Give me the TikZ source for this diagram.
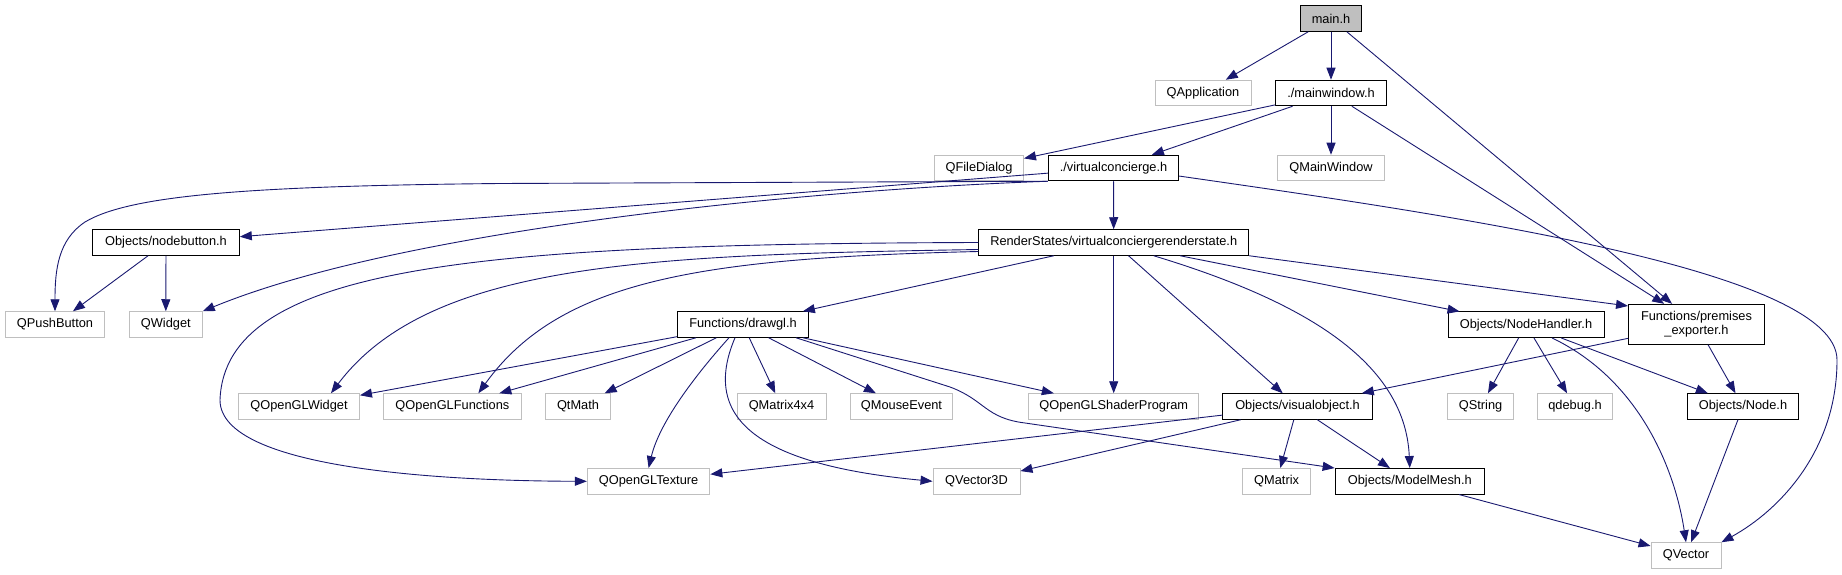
\documentclass[tikz,border=0pt]{standalone}
\usepackage{fontspec}
\setmainfont{Liberation Sans}
\usetikzlibrary{arrows.meta}
\begin{document}
\begin{tikzpicture}[x=1pt, y=-1pt,
        hdr/.style={draw=black, fill=white, line width=0.9pt, minimum height=25.6pt, inner sep=0pt, font=\fontsize{12.8}{14.3}\selectfont},
        syshdr/.style={hdr, draw=boxgray},
        roothdr/.style={hdr, fill=boxgray},
        incl/.style={draw=edgeblue, line width=0.9pt, -{Triangle[length=12pt,width=9pt]}}]
\definecolor{boxgray}{RGB}{191,191,191}
\definecolor{edgeblue}{RGB}{25,25,112}
\useasboundingbox (0,0) rectangle (1842,575);
\node[roothdr, minimum width=61pt] (main) at (1331,18.5) {main.h};
\node[syshdr, minimum width=96pt] (qapp) at (1203,93) {QApplication};
\node[hdr, minimum width=110.6pt] (mainwin) at (1331,93) {./mainwindow.h};
\node[syshdr, minimum width=89pt] (qfiledlg) at (979,168) {QFileDialog};
\node[hdr, minimum width=130.5pt] (vconc) at (1113.5,168) {./virtualconcierge.h};
\node[syshdr, minimum width=107pt] (qmainwin) at (1331,168) {QMainWindow};
\node[hdr, minimum width=270pt] (rstate) at (1113.7,242.5) {RenderStates/virtualconciergerenderstate.h};
\node[hdr, minimum width=146.7pt] (nodebtn) at (166,242.5) {Objects/nodebutton.h};
\node[syshdr, minimum width=99.7pt] (qpushbtn) at (55,324.5) {QPushButton};
\node[syshdr, minimum width=73pt] (qwidget) at (165.8,324.5) {QWidget};
\node[hdr, minimum width=131pt] (drawgl) at (743,324.5) {Functions/drawgl.h};
\node[hdr, minimum width=156pt] (nodehdl) at (1526,324.7) {Objects/NodeHandler.h};
\node[hdr, minimum width=136pt, minimum height=40pt, align=center] (premexp) at (1696.5,324.3) {Functions/premises\\\_exporter.h};
\node[syshdr, minimum width=121pt] (qglwidget) at (299,406.5) {QOpenGLWidget};
\node[syshdr, minimum width=137.3pt] (qglfunc) at (452.4,406.5) {QOpenGLFunctions};
\node[syshdr, minimum width=64.5pt] (qtmath) at (578,406.5) {QtMath};
\node[syshdr, minimum width=89pt] (qmat4) at (781.5,406.5) {QMatrix4x4};
\node[syshdr, minimum width=101.5pt] (qmouse) at (901.5,406.5) {QMouseEvent};
\node[syshdr, minimum width=170pt] (qglshader) at (1113.7,406.5) {QOpenGLShaderProgram};
\node[hdr, minimum width=149.4pt] (visobj) at (1297.5,406.5) {Objects/visualobject.h};
\node[syshdr, minimum width=66.5pt] (qstring) at (1480.6,406.5) {QString};
\node[syshdr, minimum width=75pt] (qdebug) at (1575,406.5) {qdebug.h};
\node[hdr, minimum width=111.7pt] (objnode) at (1743,406.5) {Objects/Node.h};
\node[syshdr, minimum width=122.6pt] (qgltex) at (648.6,481.3) {QOpenGLTexture};
\node[syshdr, minimum width=87pt] (qvec3d) at (976.5,481.3) {QVector3D};
\node[syshdr, minimum width=67.6pt] (qmatrix) at (1276.6,481.3) {QMatrix};
\node[hdr, minimum width=149.4pt] (modelmesh) at (1409.8,481.3) {Objects/ModelMesh.h};
\node[syshdr, minimum width=70pt] (qvector) at (1686,555.5) {QVector};
\draw[incl] (main) -- (qapp);
\draw[incl] (main) -- (mainwin);
\draw[incl] (main) -- (premexp);
\draw[incl] (mainwin) -- (qfiledlg);
\draw[incl] (mainwin) -- (vconc);
\draw[incl] (mainwin) -- (qmainwin);
\draw[incl] (mainwin) -- (premexp);
\draw[incl] (vconc.south west) -- (500,183.5) .. controls (250,186) and (130,195) .. (85,222) .. controls (58,240) and (55,270) .. (qpushbtn.north);
\draw[incl] (vconc) -- (nodebtn);
\draw[incl] (vconc.south west) .. controls (800,190) and (400,230) .. (qwidget.north east);
\draw[incl] (vconc) -- (rstate);
\draw[incl] (vconc.-7) .. controls (1450,215) and (1837,270) .. (1837,360) .. controls (1837,450) and (1780,510) .. (qvector.north east);
\draw[incl] (nodebtn) -- (qpushbtn);
\draw[incl] (nodebtn) -- (qwidget);
\draw[incl] (rstate.west) .. controls (480,244) and (225,265) .. (220,400) .. controls (220,470) and (450,481) .. (qgltex.west);
\draw[incl] ([yshift=-7pt]rstate.west) .. controls (650,255) and (430,262) .. ([xshift=32pt]qglwidget.north);
\draw[incl] ([yshift=-9pt]rstate.west) .. controls (700,258) and (560,280) .. ([xshift=26pt]qglfunc.north);
\draw[incl] (rstate) -- (drawgl);
\draw[incl] (rstate) -- (qglshader);
\draw[incl] (rstate) -- (visobj);
\draw[incl] ([xshift=40pt]rstate.south) .. controls (1300,300) and (1405,360) .. (modelmesh.north);
\draw[incl] (rstate) -- (nodehdl);
\draw[incl] (rstate.south east) -- (premexp.165);
\draw[incl] (drawgl) -- (qglwidget);
\draw[incl] (drawgl) -- (qglfunc);
\draw[incl] (drawgl) -- (qtmath);
\draw[incl] ([xshift=-14pt]drawgl.south) .. controls (700,370) and (660,420) .. (qgltex.north);
\draw[incl] ([xshift=-8pt]drawgl.south) .. controls (700,420) and (760,465) .. (qvec3d.west);
\draw[incl] (drawgl) -- (qmat4);
\draw[incl] (drawgl) -- (qmouse);
\draw[incl] (drawgl) -- (qglshader);
\draw[incl] ([xshift=53pt]drawgl.south) -- (950,387) .. controls (985,400) and (985,418) .. (1025,423) -- (modelmesh.north west);
\draw[incl] (nodehdl) -- (qstring);
\draw[incl] (nodehdl) -- (qdebug);
\draw[incl] ([xshift=26pt]nodehdl.south) .. controls (1640,380) and (1675,470) .. (qvector.north);
\draw[incl] (nodehdl) -- (objnode);
\draw[incl] (premexp) -- (visobj);
\draw[incl] (premexp) -- (objnode);
\draw[incl] (visobj) -- (qgltex);
\draw[incl] (visobj) -- (qvec3d);
\draw[incl] (visobj) -- (qmatrix);
\draw[incl] (visobj) -- (modelmesh);
\draw[incl] (objnode) -- (qvector);
\draw[incl] (modelmesh) -- (qvector);
\end{tikzpicture}
\end{document}
